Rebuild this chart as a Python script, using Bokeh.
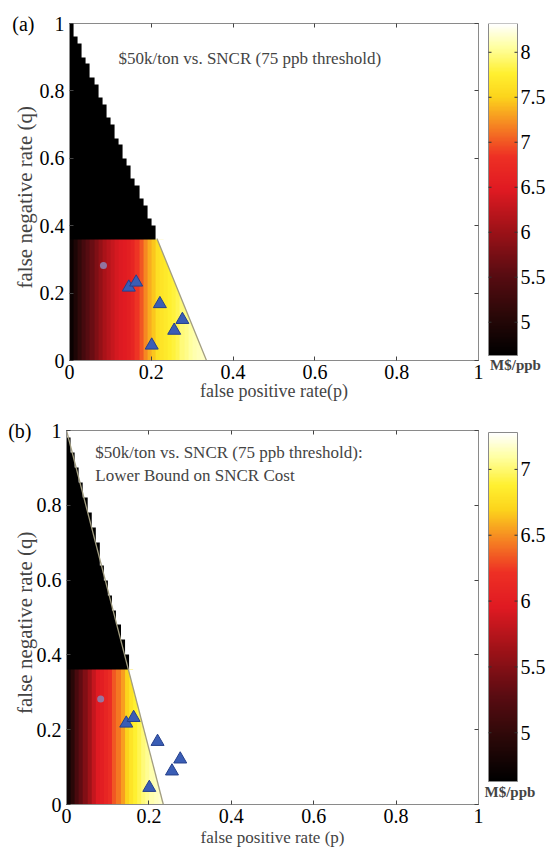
import numpy as np
from bokeh.plotting import figure
from bokeh.models import (LinearAxis, LinearColorMapper, Label, FixedTicker)
from bokeh.layouts import column, row
from bokeh.embed import file_html
from bokeh.resources import INLINE
from bokeh.core.properties import value

# ---------------- values ----------------
p_step = 0.01          # heat-map cell width (false positive rate)
q_step = 0.02          # heat-map cell height (false negative rate)
q_black = 0.36         # above this q the cells are black

# cost (M$/ppb) per p-column, panel (a) and panel (b)
cost_a = [4.75, 4.95, 5.15, 5.35, 5.50, 5.65, 5.80, 5.95, 6.10, 6.20,
          6.30, 6.40, 6.45, 6.50, 6.55, 6.65, 6.85, 7.00, 7.20, 7.35,
          7.45, 7.60, 7.65, 7.70, 7.75, 7.80, 7.85, 7.95, 8.00, 8.05,
          8.10, 8.12, 8.15, 8.18]
cost_b = [4.76, 4.95, 5.16, 5.32, 5.48, 5.64, 5.82, 5.95, 6.00, 6.08,
          6.17, 6.33, 6.43, 6.54, 6.70, 6.80, 6.88, 6.94, 7.02, 7.07,
          7.12, 7.15, 7.17, 7.20]

# feasible-region boundary p = p_end * (1 - q)
p_end_a = 0.335
p_end_b = 0.235
line_top_a = 0.362
line_top_b = 1.0

cbar_low_a, cbar_high_a = 4.63, 8.32
cbar_low_b, cbar_high_b = 4.63, 7.28
cbar_ticks_a = [5, 5.5, 6, 6.5, 7, 7.5, 8]
cbar_labels_a = ["5", "5.5", "6", "6.5", "7", "7.5", "8"]
cbar_ticks_b = [5, 5.5, 6, 6.5, 7]
cbar_labels_b = ["5", "5.5", "6", "6.5", "7"]

tri_p = [0.145, 0.163, 0.221, 0.256, 0.276, 0.201]
tri_q = [0.217, 0.232, 0.168, 0.089, 0.121, 0.045]
dot_p = [0.083]
dot_q = [0.282]

axis_ticks = [0, 0.2, 0.4, 0.6, 0.8, 1]
axis_tick_labels = ["0", "0.2", "0.4", "0.6", "0.8", "1"]

title_a = "$50k/ton vs. SNCR (75 ppb threshold)"
title_b1 = "$50k/ton vs. SNCR (75 ppb threshold):"
title_b2 = "Lower Bound on SNCR Cost"
unit_label = "M$/ppb"
NBSP = "\u00a0"

# ---------------- styles / layout ----------------
SERIF = "Liberation Serif"
AX_COLOR = "#8a8a8a"
TRI_FILL = "#3a5db5"
TRI_LINE = "#25408c"
EDGE_COLOR = "#a29d80"
MAIN_W = 484
FRAME_RIGHT = 478
CB_W = 62
CB_LEFT_PAD = 4      # px from colour-bar figure edge to the bar
CB_BAR_W = 29        # px width of the bar

# colour map anchors (fraction of range, colour) - a "hot"-like map
CMAP_ANCHORS = [(0.00, "#000000"), (0.12, "#2a0808"), (0.25, "#5c0c12"),
                (0.38, "#a01218"), (0.50, "#e01a22"), (0.60, "#ee3024"),
                (0.70, "#f68a22"), (0.78, "#fcd41c"), (0.85, "#fff030"),
                (0.93, "#ffffa0"), (1.00, "#ffffff")]


def build_palette(n=256):
    ts = [a[0] for a in CMAP_ANCHORS]
    rgb = np.array([[int(c[i:i + 2], 16) for i in (1, 3, 5)] for _, c in CMAP_ANCHORS],
                   dtype=float)
    pal = []
    for k in range(n):
        t = k / (n - 1)
        r = np.interp(t, ts, rgb[:, 0])
        g = np.interp(t, ts, rgb[:, 1])
        b = np.interp(t, ts, rgb[:, 2])
        pal.append("#%02x%02x%02x" % (round(r), round(g), round(b)))
    return pal


PALETTE = build_palette()


def cost_grid(costs, p_end):
    nq = int(round(1 / q_step))
    grid = np.full((nq, len(costs)), np.nan)
    for i in range(nq):
        qb = i * q_step
        qc = qb + q_step / 2
        for j, c in enumerate(costs):
            pl = j * p_step
            if qc < q_black:
                if pl < p_end * (1 - qb):
                    grid[i, j] = c
            elif pl + p_step / 2 <= p_end * (1 - qb):
                grid[i, j] = -1.0  # below the colour scale -> black
    k = 6
    return np.repeat(np.repeat(grid, k, axis=0), k, axis=1)


def style_axis(ax, show_labels=True, size="20px", overrides=None):
    ax.ticker = FixedTicker(ticks=axis_ticks)
    ax.major_label_overrides = overrides or dict(zip(axis_ticks, axis_tick_labels))
    ax.major_tick_in = 4
    ax.major_tick_out = 0
    ax.minor_tick_line_color = None
    ax.axis_line_color = AX_COLOR
    ax.major_tick_line_color = "#444444"
    ax.major_label_text_font = SERIF
    ax.major_label_text_color = "black"
    if show_labels:
        ax.major_label_text_font_size = size
    else:
        ax.major_label_text_font_size = "0px"
        ax.major_label_text_color = None
        ax.major_label_standoff = 0


def main_fig(costs, p_end, line_top, mapper, H, left, top, bottom,
             xlabel, xlab_size, xlab_standoff, ylab_standoff, letter, titles):
    p = figure(width=MAIN_W, height=H, x_range=(0, 1), y_range=(0, 1),
               output_backend="svg", toolbar_location=None,
               min_border_left=left, min_border_right=MAIN_W - FRAME_RIGHT,
               min_border_top=top, min_border_bottom=bottom)
    p.grid.visible = False
    p.outline_line_color = AX_COLOR
    p.background_fill_color = "white"
    p.border_fill_color = "white"

    p.image(image=[cost_grid(costs, p_end)], x=0, y=0,
            dw=len(costs) * p_step, dh=1.0, color_mapper=mapper)
    # trim coloured cells at the boundary line
    p.patch(x=[p_end, p_end * (1 - q_black), 1, 1],
            y=[0, q_black, q_black, 0], fill_color="white", line_color=None)
    p.line([p_end * (1 - line_top), p_end], [line_top, 0],
           line_color=EDGE_COLOR, line_width=1.3)
    p.scatter(dot_p, dot_q, marker="circle", size=7,
              fill_color="#8f7fae", line_color=None, fill_alpha=0.9)
    p.scatter(tri_p, tri_q, marker="triangle", size=13,
              fill_color=TRI_FILL, line_color=TRI_LINE, line_width=1)

    style_axis(p.xaxis[0], size="20px")
    # panel letter shares the line of the top y tick label
    y_over = dict(zip(axis_ticks, axis_tick_labels))
    y_over[axis_ticks[-1]] = letter + NBSP * 4 + axis_tick_labels[-1]
    style_axis(p.yaxis[0], size="20px", overrides=y_over)
    p.xaxis.major_label_standoff = 4
    p.yaxis.major_label_standoff = 5
    p.xaxis.axis_label = xlabel
    p.xaxis.axis_label_text_font = SERIF
    p.xaxis.axis_label_text_font_size = xlab_size
    p.xaxis.axis_label_text_font_style = "normal"
    p.xaxis.axis_label_standoff = xlab_standoff
    p.yaxis.axis_label = "false negative rate   (q)"
    p.yaxis.axis_label_text_font = SERIF
    p.yaxis.axis_label_text_font_size = "21px"
    p.yaxis.axis_label_text_font_style = "normal"
    p.yaxis.axis_label_standoff = ylab_standoff

    top_ax = LinearAxis()
    style_axis(top_ax, show_labels=False)
    p.add_layout(top_ax, "above")
    right_ax = LinearAxis()
    style_axis(right_ax, show_labels=False)
    p.add_layout(right_ax, "right")

    for (tx, ty, txt) in titles:
        p.add_layout(Label(x=tx, y=ty, text=txt, text_align="left",
                           text_baseline="middle", text_font=SERIF,
                           text_font_size="17px"))
    return p


def cbar_fig(mapper, low, high, ticks, labels, H, top, bottom,
             frame_px, bar_top_px, bar_bottom_px, unit_as_axis):
    # vertical scale: bar occupies [bar_top_px, bar_bottom_px] inside the frame
    ppu = (bar_bottom_px - bar_top_px) / (high - low)
    y0 = low - (frame_px - bar_bottom_px) / ppu
    y1 = high + bar_top_px / ppu
    x0 = -CB_LEFT_PAD / CB_BAR_W
    x1 = (CB_W - CB_LEFT_PAD) / CB_BAR_W
    c = figure(width=CB_W, height=H, x_range=(x0, x1), y_range=(y0, y1),
               output_backend="svg", toolbar_location=None,
               x_axis_location=None, y_axis_location=None,
               min_border_left=0, min_border_right=0,
               min_border_top=top, min_border_bottom=bottom)
    c.grid.visible = False
    c.outline_line_color = None
    grad = np.linspace(low, high, 256).reshape(-1, 1)
    c.image(image=[grad], x=0, y=low, dw=1, dh=high - low, color_mapper=mapper)
    c.quad(left=0, right=1, bottom=low, top=high, fill_color=None,
           line_color=AX_COLOR, line_width=1)
    tick_len = 3 / CB_BAR_W
    n = len(ticks)
    c.segment(x0=[0] * n, y0=ticks, x1=[tick_len] * n, y1=ticks,
              line_color="#333333", line_width=1)
    c.segment(x0=[1 - tick_len] * n, y0=ticks, x1=[1] * n, y1=ticks,
              line_color="#333333", line_width=1)
    c.text(x=[1] * n, y=ticks, text=labels, x_offset=3, text_align="left",
           text_baseline="middle", text_font=value(SERIF), text_font_size="20px",
           text_color="black")
    if unit_as_axis:
        ax = LinearAxis(ticker=FixedTicker(ticks=[]), axis_line_color=None,
                        major_tick_line_color=None, minor_tick_line_color=None,
                        axis_label=unit_label, axis_label_standoff=-4,
                        axis_label_text_font=SERIF, axis_label_text_font_size="15px",
                        axis_label_text_font_style="bold")
        c.add_layout(ax, "below")
    else:
        c.add_layout(Label(x=0, y=low, x_offset=-CB_LEFT_PAD, y_offset=-2,
                           text=unit_label, text_align="left", text_baseline="top",
                           text_font=SERIF, text_font_size="15px",
                           text_font_style="bold"))
    return c


mapper_a = LinearColorMapper(palette=PALETTE, low=cbar_low_a, high=cbar_high_a,
                             low_color="black", nan_color=(0, 0, 0, 0))
mapper_b = LinearColorMapper(palette=PALETTE, low=cbar_low_b, high=cbar_high_b,
                             low_color="black", nan_color=(0, 0, 0, 0))

H_A, TOP_A, BOT_A = 412, 23, 52      # frame 23..360
H_B, TOP_B, BOT_B = 437, 18, 45      # frame 430..804 on the page

fig_a = main_fig(cost_a, p_end_a, line_top_a, mapper_a, H=H_A, left=69, top=TOP_A,
                 bottom=BOT_A, xlabel="false positive rate(p)", xlab_size="18px",
                 xlab_standoff=-1, ylab_standoff=-28, letter="(a)",
                 titles=[(0.12, 0.896, title_a)])
fig_b = main_fig(cost_b, p_end_b, line_top_b, mapper_b, H=H_B, left=66, top=TOP_B,
                 bottom=BOT_B, xlabel="false positive rate (p)", xlab_size="17px",
                 xlab_standoff=2, ylab_standoff=-32, letter="(b)",
                 titles=[(0.07, 0.941, title_b1), (0.07, 0.880, title_b2)])

cb_a = cbar_fig(mapper_a, cbar_low_a, cbar_high_a, cbar_ticks_a, cbar_labels_a,
                H=H_A, top=TOP_A, bottom=BOT_A, frame_px=H_A - TOP_A - BOT_A,
                bar_top_px=0, bar_bottom_px=332, unit_as_axis=True)
cb_b = cbar_fig(mapper_b, cbar_low_b, cbar_high_b, cbar_ticks_b, cbar_labels_b,
                H=H_B, top=TOP_B, bottom=BOT_B, frame_px=H_B - TOP_B - BOT_B,
                bar_top_px=2, bar_bottom_px=351, unit_as_axis=False)

layout = column(row(fig_a, cb_a), row(fig_b, cb_b))
open("out.html", "w").write(file_html(layout, INLINE))
